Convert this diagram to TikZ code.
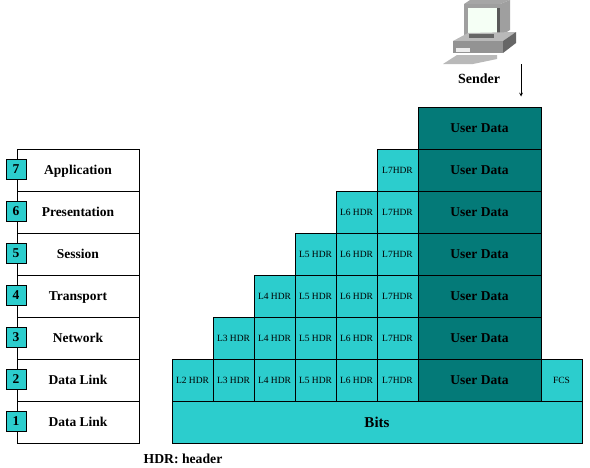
\documentclass[tikz,border=0pt]{standalone}
\usepackage{fontspec}
\setmainfont{Liberation Serif}
\definecolor{cellcyan}{HTML}{2CCDCD}
\definecolor{datateal}{HTML}{047A78}
\tikzset{
    hdrcell/.style={draw=black, line width=1pt, fill=cellcyan, inner sep=0pt, minimum width=41pt, minimum height=42pt, font=\fontsize{9.5}{9.5}\selectfont},
    datacell/.style={draw=black, line width=1pt, fill=datateal, inner sep=0pt, minimum width=123pt, minimum height=42pt, font=\bfseries\fontsize{13.5}{13.5}\selectfont},
    layerrow/.style={draw=black, line width=0.9pt, fill=white, inner sep=0pt, minimum width=122pt, minimum height=42pt},
    layertext/.style={anchor=base, inner sep=0pt, font=\bfseries\fontsize{13.5}{13.5}\selectfont},
    badge/.style={draw=black, line width=0.9pt, fill=cellcyan, inner sep=0pt, minimum size=20pt, font=\bfseries\fontsize{13.5}{13.5}\selectfont},
}
\begin{document}
\begin{tikzpicture}[x=1pt, y=-1pt]
    \useasboundingbox (0, 0) rectangle (590, 467);

    % The computer on top
    \fill[gray!70] (464, 4) -- (470, 0) -- (510, 0) -- (500, 4) -- cycle;
    \fill[gray!75] (500, 4) -- (510, 0) -- (510, 30) -- (500, 36) -- cycle;
    \fill[gray!75] (464, 4) rectangle (500, 36);
    \fill[green!4!white] (468, 8) rectangle (497, 33);
    \fill[black!65] (497, 8) rectangle (500, 33);
    \fill[gray!55] (453, 41) -- (468, 33) -- (516, 32) -- (503, 41) -- cycle;
    \fill[black!60] (503, 41) -- (516, 32) -- (516, 43) -- (503, 53) -- cycle;
    \fill[gray!85] (453, 41) rectangle (503, 53);
    \fill[black!60] (469, 34) rectangle (494, 38);
    \fill[gray!15] (456, 48) rectangle (470, 52);
    \fill[gray!55] (443, 64) -- (457, 55) -- (497, 55) -- (497, 59) -- (473, 64) -- cycle;

    \node[layertext, font=\bfseries\fontsize{14}{14}\selectfont] (sender) at (479, 83) {Sender};
    \coordinate (arrowstart) at (521, 64);
    \coordinate (arrowend) at (521, 96.5);
    \draw[-stealth, line width=0.7pt] (arrowstart) -- (arrowend);

    % OSI layers on the left
    \node[layerrow] (app) at (78, 170) {};
    \node[layerrow] (pres) at (78, 212) {};
    \node[layerrow] (sess) at (78, 254) {};
    \node[layerrow] (trans) at (78, 296) {};
    \node[layerrow] (net) at (78, 338) {};
    \node[layerrow] (link) at (78, 380) {};
    \node[layerrow] (phys) at (78, 422) {};
    \node[layertext] (apptxt) at (78, 174) {Application};
    \node[layertext] (prestxt) at (78, 216) {Presentation};
    \node[layertext] (sesstxt) at (78, 258) {Session};
    \node[layertext] (transtxt) at (78, 300) {Transport};
    \node[layertext] (nettxt) at (78, 342) {Network};
    \node[layertext] (linktxt) at (78, 384) {Data Link};
    \node[layertext] (phystxt) at (78, 426) {Data Link};
    \node[badge] (b7) at (16, 169) {7};
    \node[badge] (b6) at (16, 211) {6};
    \node[badge] (b5) at (16, 253) {5};
    \node[badge] (b4) at (16, 295) {4};
    \node[badge] (b3) at (16, 337) {3};
    \node[badge] (b2) at (16, 379) {2};
    \node[badge] (b1) at (16, 421) {1};

    % User data column
    \node[datacell] (d8) at (479.5, 128) {User Data};
    \node[datacell] (d7) at (479.5, 170) {User Data};
    \node[datacell] (d6) at (479.5, 212) {User Data};
    \node[datacell] (d5) at (479.5, 254) {User Data};
    \node[datacell] (d4) at (479.5, 296) {User Data};
    \node[datacell] (d3) at (479.5, 338) {User Data};
    \node[datacell] (d2) at (479.5, 380) {User Data};

    % Headers, row by row
    \node[hdrcell] (h77) at (397.5, 170) {L7HDR};
    \node[hdrcell] (h66) at (356.5, 212) {L6 HDR};
    \node[hdrcell] (h67) at (397.5, 212) {L7HDR};
    \node[hdrcell] (h55) at (315.5, 254) {L5 HDR};
    \node[hdrcell] (h56) at (356.5, 254) {L6 HDR};
    \node[hdrcell] (h57) at (397.5, 254) {L7HDR};
    \node[hdrcell] (h44) at (274.5, 296) {L4 HDR};
    \node[hdrcell] (h45) at (315.5, 296) {L5 HDR};
    \node[hdrcell] (h46) at (356.5, 296) {L6 HDR};
    \node[hdrcell] (h47) at (397.5, 296) {L7HDR};
    \node[hdrcell] (h33) at (233.5, 338) {L3 HDR};
    \node[hdrcell] (h34) at (274.5, 338) {L4 HDR};
    \node[hdrcell] (h35) at (315.5, 338) {L5 HDR};
    \node[hdrcell] (h36) at (356.5, 338) {L6 HDR};
    \node[hdrcell] (h37) at (397.5, 338) {L7HDR};
    \node[hdrcell] (h22) at (192.5, 380) {L2 HDR};
    \node[hdrcell] (h23) at (233.5, 380) {L3 HDR};
    \node[hdrcell] (h24) at (274.5, 380) {L4 HDR};
    \node[hdrcell] (h25) at (315.5, 380) {L5 HDR};
    \node[hdrcell] (h26) at (356.5, 380) {L6 HDR};
    \node[hdrcell] (h27) at (397.5, 380) {L7HDR};
    \node[hdrcell] (fcs) at (561.5, 380) {FCS};

    % Bottom bar
    \node[hdrcell, minimum width=410pt, font=\bfseries\fontsize{15}{15}\selectfont] (bits) at (377, 422) {Bits};

    \node[layertext, font=\bfseries\fontsize{13.7}{13.7}\selectfont] (note) at (183, 463) {HDR: header};
\end{tikzpicture}
\end{document}
